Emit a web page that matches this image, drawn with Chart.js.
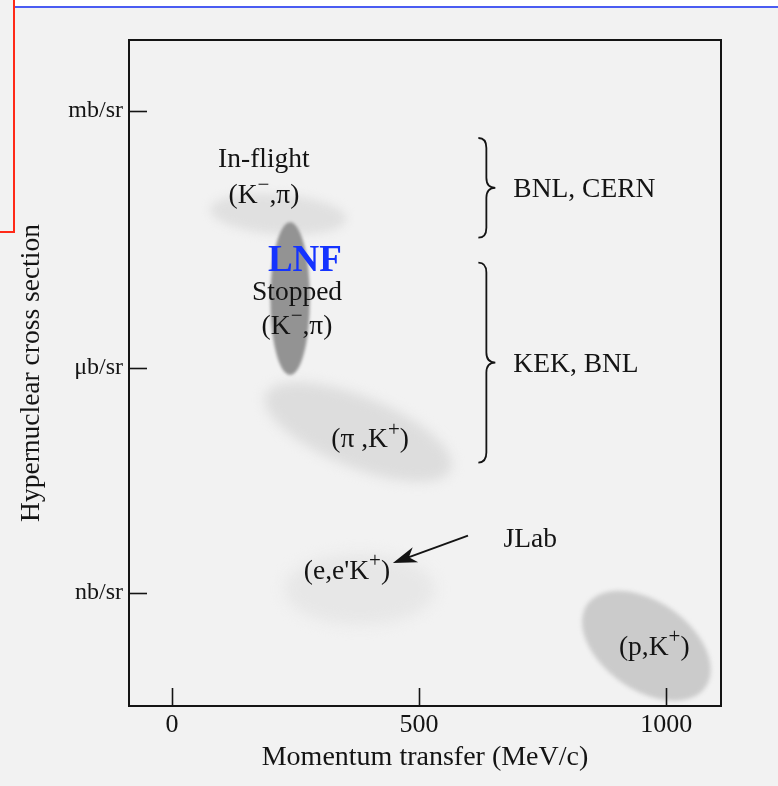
<!DOCTYPE html>
<html>
<head>
<meta charset="utf-8">
<script src="https://cdn.jsdelivr.net/npm/chart.js@4.4.1/dist/chart.umd.min.js"></script>
<style>
  body { margin: 0; background: #f2f2f2; }
  #wrap { position: relative; width: 778px; height: 786px; overflow: hidden; }
  #topStrip { position: absolute; left: 15px; top: 0; width: 763px; height: 6px; background: #fff; }
  #blueLine { position: absolute; left: 15px; top: 6px; width: 763px; height: 2px; background: #4b5cf2; }
  #redV { position: absolute; left: 13px; top: 0; width: 2px; height: 233px; background: #ff2a18; }
  #redH { position: absolute; left: 0; top: 231px; width: 15px; height: 2px; background: #ff2a18; }
</style>
</head>
<body>
<div id="wrap">
  <canvas id="graf" width="778" height="786"></canvas>
  <div id="topStrip"></div>
  <div id="blueLine"></div>
  <div id="redV"></div>
  <div id="redH"></div>
</div>
<script>
const graf = document.getElementById('graf')

// axes
const xTicks = [0, 500, 1000]
const yTicks = [0, 2.8, 6]   // decades above nb/sr, spaced as drawn
const yTickLabels = ['nb/sr', 'μb/sr', 'mb/sr']

// shaded regions: centre and half-extent in axis units
const regions = ['In-flight (K-,π)', 'Stopped (K-,π)', '(π,K+)', "(e,e'K+)", '(p,K+)']
const regionX = [215, 239, 377, 380, 960]
const regionY = [4.71, 3.66, 2.0, 0.04, -0.66]
const regionDx = [138, 40, 202, 152, 146]
const regionDy = [0.25, 0.95, 0.44, 0.44, 0.55]

// text notes
const noteText = ['In-flight', '(K^−,π)', 'Stopped', '(K^−,π)', '(π ,K^+)', "(e,e'K^+)", 'JLab', '(p,K^+)']
const noteX = [186, 186, 253, 253, 401, 354, 725, 976]
const noteY = [5.39, 4.94, 3.73, 3.31, 1.90, 0.26, 0.66, -0.68]

// labs grouped with braces
const braceLabels = ['BNL, CERN', 'KEK, BNL']
const braceX = [620, 620]
const braceTop = [5.66, 4.11]
const braceBottom = [4.42, 1.62]

// JLab arrow
const arrowFrom = [599, 0.71]
const arrowTo = [447, 0.37]

const serif = '"Liberation Serif", "Times New Roman", serif'
const ink = '#141414'
const regionStyle = [
  { fill: '#e0e0e0', tilt: 4, blur: 5 },
  { fill: '#939393', tilt: 0, blur: 1.5 },
  { fill: '#dddddd', tilt: 22, blur: 6 },
  { fill: '#e7e7e7', tilt: 0, blur: 7 },
  { fill: '#cbcbcb', tilt: 35, blur: 2 }
]

function drawRich(ctx, str, x, y, size, align) {
  const parts = []
  const re = /\^(.)/g
  let last = 0, m
  while ((m = re.exec(str))) {
    if (m.index > last) parts.push([str.slice(last, m.index), false])
    parts.push([m[1], true])
    last = re.lastIndex
  }
  if (last < str.length) parts.push([str.slice(last), false])
  const fontOf = sup => (sup ? Math.round(size * 0.78) : size) + 'px ' + serif
  let w = 0
  parts.forEach(p => { ctx.font = fontOf(p[1]); w += ctx.measureText(p[0]).width })
  let cx = align === 'left' ? x : x - w / 2
  ctx.textAlign = 'left'
  ctx.textBaseline = 'middle'
  parts.forEach(p => {
    ctx.font = fontOf(p[1])
    ctx.fillText(p[0], cx, p[1] ? y - size * 0.36 : y)
    cx += ctx.measureText(p[0]).width
  })
}

const decor = {
  id: 'decor',
  beforeDatasetsDraw(chart) {
    const ctx = chart.ctx, xs = chart.scales.x, ys = chart.scales.y, a = chart.chartArea
    ctx.save()
    ctx.beginPath()
    ctx.rect(a.left, a.top, a.right - a.left, a.bottom - a.top)
    ctx.clip()
    regions.forEach((r, i) => {
      const cx = xs.getPixelForValue(regionX[i]), cy = ys.getPixelForValue(regionY[i])
      const rx = Math.abs(xs.getPixelForValue(regionX[i] + regionDx[i]) - cx)
      const ry = Math.abs(ys.getPixelForValue(regionY[i] + regionDy[i]) - cy)
      const st = regionStyle[i]
      ctx.save()
      ctx.filter = 'blur(' + st.blur + 'px)'
      ctx.fillStyle = st.fill
      ctx.beginPath()
      ctx.ellipse(cx, cy, rx, ry, st.tilt * Math.PI / 180, 0, Math.PI * 2)
      ctx.fill()
      ctx.restore()
    })
    ctx.restore()
  },
  afterDraw(chart) {
    const ctx = chart.ctx, xs = chart.scales.x, ys = chart.scales.y, a = chart.chartArea
    ctx.save()
    ctx.strokeStyle = ink
    ctx.fillStyle = ink
    ctx.lineWidth = 2
    ctx.strokeRect(a.left, a.top, a.right - a.left, a.bottom - a.top)

    // inward tick marks
    ctx.lineWidth = 1.6
    yTicks.forEach(v => {
      const y = Math.round(ys.getPixelForValue(v)) + 0.5
      ctx.beginPath(); ctx.moveTo(a.left, y); ctx.lineTo(a.left + 18, y); ctx.stroke()
    })
    xTicks.forEach(v => {
      const x = Math.round(xs.getPixelForValue(v)) + 0.5
      ctx.beginPath(); ctx.moveTo(x, a.bottom); ctx.lineTo(x, a.bottom - 18); ctx.stroke()
    })

    // notes
    noteText.forEach((t, i) => {
      drawRich(ctx, t, xs.getPixelForValue(noteX[i]), ys.getPixelForValue(noteY[i]), 27.5, 'center')
    })

    // LNF
    ctx.fillStyle = '#1433ff'
    ctx.font = 'bold 37px ' + serif
    ctx.textAlign = 'center'
    ctx.textBaseline = 'middle'
    ctx.fillText('LNF', xs.getPixelForValue(269), ys.getPixelForValue(4.12))
    ctx.fillStyle = ink

    // braces
    ctx.lineWidth = 1.8
    braceLabels.forEach((lab, i) => {
      const x0 = xs.getPixelForValue(braceX[i])
      const yT = ys.getPixelForValue(braceTop[i]), yB = ys.getPixelForValue(braceBottom[i])
      const yM = (yT + yB) / 2, xm = x0 + 8, xt = x0 + 17, r = 10
      ctx.beginPath()
      ctx.moveTo(x0, yT)
      ctx.quadraticCurveTo(xm, yT, xm, yT + r)
      ctx.lineTo(xm, yM - r)
      ctx.quadraticCurveTo(xm, yM, xt, yM)
      ctx.quadraticCurveTo(xm, yM, xm, yM + r)
      ctx.lineTo(xm, yB - r)
      ctx.quadraticCurveTo(xm, yB, x0, yB)
      ctx.stroke()
      drawRich(ctx, lab, xt + 18, yM + 2, 27.5, 'left')
    })

    // arrow
    const ax = xs.getPixelForValue(arrowFrom[0]), ay = ys.getPixelForValue(arrowFrom[1])
    const bx = xs.getPixelForValue(arrowTo[0]), by = ys.getPixelForValue(arrowTo[1])
    const ang = Math.atan2(by - ay, bx - ax)
    ctx.lineWidth = 2
    ctx.beginPath()
    ctx.moveTo(ax, ay)
    ctx.lineTo(bx - 15 * Math.cos(ang), by - 15 * Math.sin(ang))
    ctx.stroke()
    ctx.beginPath()
    ctx.moveTo(bx, by)
    ctx.lineTo(bx - 24 * Math.cos(ang) + 8 * Math.sin(ang), by - 24 * Math.sin(ang) - 8 * Math.cos(ang))
    ctx.lineTo(bx - 17 * Math.cos(ang), by - 17 * Math.sin(ang))
    ctx.lineTo(bx - 24 * Math.cos(ang) - 8 * Math.sin(ang), by - 24 * Math.sin(ang) + 8 * Math.cos(ang))
    ctx.closePath()
    ctx.fill()
    ctx.restore()
  }
}

new Chart(graf, {
  type: 'scatter',
  data: {
    datasets: [{
      label: 'regions',
      data: regionX.map((x, i) => ({ x: x, y: regionY[i] })),
      pointRadius: 0
    }]
  },
  options: {
    responsive: false,
    animation: false,
    events: [],
    layout: { padding: { left: 0, top: 40, right: 57, bottom: 0 } },
    plugins: { legend: { display: false }, tooltip: { enabled: false } },
    scales: {
      x: {
        type: 'linear',
        min: -87,
        max: 1111,
        afterBuildTicks: s => { s.ticks = xTicks.map(v => ({ value: v })) },
        afterFit: s => { s.height = 80 },
        grid: { display: false },
        border: { display: false },
        ticks: {
          color: ink,
          font: { family: serif, size: 26 },
          padding: -4,
          maxRotation: 0,
          callback: v => String(v)
        },
        title: {
          display: true,
          text: 'Momentum transfer (MeV/c)',
          color: ink,
          font: { family: serif, size: 28 },
          padding: { top: 0, bottom: 12 }
        }
      },
      y: {
        type: 'linear',
        min: -1.41,
        max: 6.88,
        afterBuildTicks: s => { s.ticks = yTicks.map(v => ({ value: v })) },
        afterFit: s => { s.width = 129 },
        grid: { display: false },
        border: { display: false },
        ticks: {
          color: ink,
          font: { family: serif, size: 24 },
          padding: -2,
          callback: v => yTickLabels[yTicks.indexOf(v)]
        },
        title: {
          display: true,
          text: 'Hypernuclear cross section',
          color: ink,
          font: { family: serif, size: 27.5 },
          padding: { top: 15, bottom: 0 }
        }
      }
    }
  },
  plugins: [decor]
})
</script>
</body>
</html>
